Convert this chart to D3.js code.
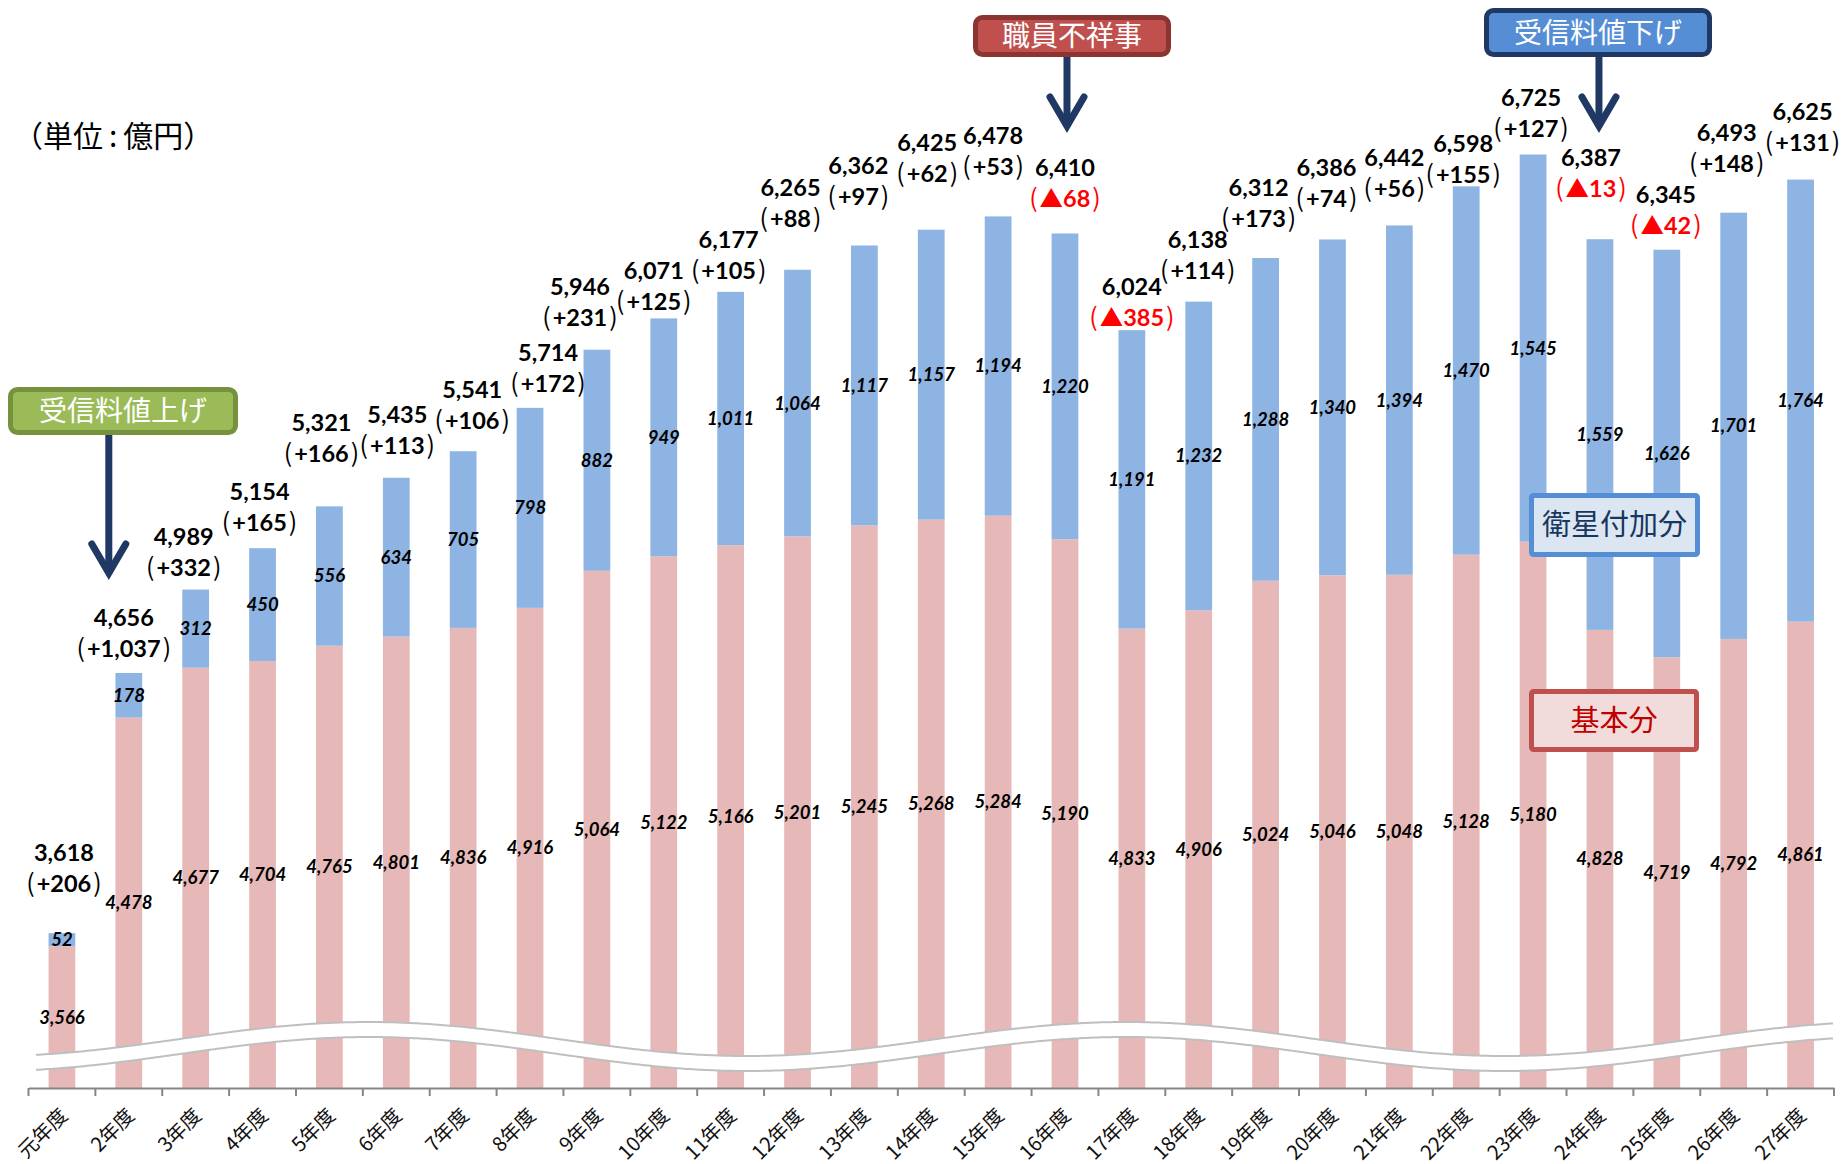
<!DOCTYPE html>
<html>
<head>
<meta charset="utf-8">
<script src="https://cdn.jsdelivr.net/npm/d3@7"></script>
<style>
  body { margin: 0; background: #fff; }
  svg { display: block; }
</style>
</head>
<body>
<script>
// 受信料収入 (単位: 億円)
const categories = ["元年度", "2年度", "3年度", "4年度", "5年度", "6年度", "7年度", "8年度", "9年度",
  "10年度", "11年度", "12年度", "13年度", "14年度", "15年度", "16年度", "17年度", "18年度",
  "19年度", "20年度", "21年度", "22年度", "23年度", "24年度", "25年度", "26年度", "27年度"];
const basicFee = [3566, 4478, 4677, 4704, 4765, 4801, 4836, 4916, 5064, 5122, 5166, 5201, 5245, 5268,
  5284, 5190, 4833, 4906, 5024, 5046, 5048, 5128, 5180, 4828, 4719, 4792, 4861];
const satelliteFee = [52, 178, 312, 450, 556, 634, 705, 798, 882, 949, 1011, 1064, 1117, 1157,
  1194, 1220, 1191, 1232, 1288, 1340, 1394, 1470, 1545, 1559, 1626, 1701, 1764];
const changes = [206, 1037, 332, 165, 166, 113, 106, 172, 231, 125, 105, 88, 97, 62,
  53, -68, -385, 114, 173, 74, 56, 155, 127, -13, -42, 148, 131];

// hand-placed nudges of the total labels (from bar top centre)
const labelDx = [2, -5, -12, -3, -8, 1, 9, 18, -17, -10, -2, -7, -6, -4, -5, 0, 0, -1, -7, -6, -5, -3, -2, -9, -1, -7, 2];
const labelDy = [-80, -55, -53, -56, -84, -63, -61, -55, -63, -48, -52, -82, -80, -87, -81, -66, -43, -62, -70, -72, -68, -43, -57, -81, -55, -80, -68];

const width = 1842, height = 1164;
const axisY = 1088;
const numFont = "Lato, 'Noto Sans CJK JP', sans-serif";
const jpFont = "'Noto Sans CJK JP', sans-serif";
const fmt = d3.format(",");

const rows = categories.map((c, i) => ({
  cat: c,
  basic: basicFee[i],
  sat: satelliteFee[i],
  total: basicFee[i] + satelliteFee[i],
  change: changes[i]
}));

const svg = d3.select("body").append("svg")
    .attr("width", width)
    .attr("height", height)
    .style("background", "#fff");

const x = d3.scaleBand()
    .domain(categories)
    .range([28.5, 1834])
    .paddingInner(0.6)
    .paddingOuter(0.3);

// axis is cut at 3,000
const y = d3.scaleLinear()
    .domain([3000, 7000])
    .range([axisY, axisY - 1002.4]);

const cx = d => x(d.cat) + x.bandwidth() / 2;

// Bars
const bars = svg.append("g");
bars.selectAll(".basic")
  .data(rows)
  .join("rect")
    .attr("class", "basic")
    .attr("x", d => x(d.cat))
    .attr("width", x.bandwidth())
    .attr("y", d => y(d.basic))
    .attr("height", d => y(3000) - y(d.basic))
    .attr("fill", "#E6B9B8");

bars.selectAll(".sat")
  .data(rows)
  .join("rect")
    .attr("class", "sat")
    .attr("x", d => x(d.cat))
    .attr("width", x.bandwidth())
    .attr("y", d => y(d.total))
    .attr("height", d => y(d.basic) - y(d.total))
    .attr("fill", "#8EB4E3");

// Axis break wave
const waveXs = d3.range(36, 1836, 3);
const wave = (px, off) => 1039 + off - 17 * Math.cos(2 * Math.PI * (px - 369) / 757);
svg.append("path")
    .datum(waveXs)
    .attr("d", d3.area().x(d => d).y0(d => wave(d, 0)).y1(d => wave(d, 15)).curve(d3.curveBasis))
    .attr("fill", "#fff");
[0, 15].forEach(off => {
  svg.append("path")
      .datum(waveXs)
      .attr("d", d3.line().x(d => d).y(d => wave(d, off)).curve(d3.curveBasis))
      .attr("fill", "none")
      .attr("stroke", "#BFBFBF")
      .attr("stroke-width", 2);
});

// Inner labels (centre of the visible segment)
const inner = svg.append("g")
    .attr("font-family", numFont)
    .attr("font-weight", 700)
    .attr("font-style", "italic")
    .attr("font-size", 18.5)
    .attr("text-anchor", "middle")
    .attr("fill", "#000");

inner.selectAll(".lb")
  .data(rows)
  .join("text")
    .attr("x", cx)
    .attr("y", d => (y(3000) + y(d.basic)) / 2)
    .attr("dy", "0.35em")
    .text(d => fmt(d.basic));

inner.selectAll(".ls")
  .data(rows)
  .join("text")
    .attr("x", cx)
    .attr("y", d => (y(d.basic) + y(d.total)) / 2)
    .attr("dy", "0.35em")
    .text(d => fmt(d.sat));

// Total labels with year-on-year change
const totals = svg.append("g")
    .attr("font-family", numFont)
    .attr("font-weight", 700)
    .attr("font-size", 23.5)
    .attr("text-anchor", "middle")
  .selectAll("g")
  .data(rows)
  .join("g")
    .attr("transform", (d, i) => "translate(" + (cx(d) + labelDx[i]) + "," + (y(d.total) + labelDy[i]) + ")");

totals.append("text")
    .attr("dy", "0.35em")
    .attr("fill", "#000")
    .text(d => fmt(d.total));

const chg = totals.append("text")
    .attr("y", 31)
    .attr("dy", "0.35em")
    .attr("fill", d => d.change < 0 ? "#FF0000" : "#000");
chg.append("tspan").attr("font-family", jpFont).attr("font-weight", 400).attr("font-size", 25).text("(");
chg.filter(d => d.change < 0).append("tspan").attr("dx", 2).attr("font-family", jpFont).text("▲");
chg.append("tspan").attr("dx", d => d.change < 0 ? 0 : 2).text(d => (d.change > 0 ? "+" : "") + fmt(Math.abs(d.change)));
chg.append("tspan").attr("dx", 2).attr("font-family", jpFont).attr("font-weight", 400).attr("font-size", 25).text(")");

// X axis
const xAxis = svg.append("g")
    .attr("transform", "translate(0," + axisY + ")")
    .call(d3.axisBottom(x).tickSize(0).tickSizeOuter(0));
xAxis.select(".domain").attr("stroke", "#868686").attr("stroke-width", 2);
xAxis.selectAll("text")
    .attr("font-family", jpFont)
    .attr("font-size", 20)
    .attr("fill", "#111")
    .attr("text-anchor", "end")
    .attr("y", 0)
    .attr("dy", "0.35em")
    .attr("transform", "translate(2,24) rotate(-45)");

const boundaries = d3.range(categories.length + 1).map(k => x.range()[0] + k * x.step());
svg.append("g")
  .selectAll("line")
  .data(boundaries)
  .join("line")
    .attr("x1", d => d).attr("x2", d => d)
    .attr("y1", axisY).attr("y2", axisY + 8)
    .attr("stroke", "#868686")
    .attr("stroke-width", 2);

// Unit note
const unit = svg.append("text")
    .attr("x", 13)
    .attr("y", 136)
    .attr("dy", "0.35em")
    .attr("font-family", jpFont)
    .attr("font-size", 30)
    .attr("fill", "#000");
unit.append("tspan").text("（単位");
unit.append("tspan").attr("dx", 6).text(":");
unit.append("tspan").attr("dx", 6).text("億円）");

// Callouts with arrows
const callouts = [
  { text: "受信料値上げ", target: "2年度", x0: 8, y0: 387, w: 230, h: 48, fill: "#9BBB59", stroke: "#76923C", ax: -20, tip: 577 },
  { text: "職員不祥事", target: "16年度", x0: 973, y0: 15, w: 198, h: 42, fill: "#C0504D", stroke: "#8C3432", ax: 2, tip: 130 },
  { text: "受信料値下げ", target: "24年度", x0: 1484, y0: 8, w: 228, h: 49, fill: "#558ED5", stroke: "#1F3864", ax: -1, tip: 130 }
];

const co = svg.append("g").selectAll("g").data(callouts).join("g");
co.each(function(d) {
  const g = d3.select(this);
  const ax = x(d.target) + x.bandwidth() / 2 + d.ax;
  g.append("line")
      .attr("x1", ax).attr("x2", ax)
      .attr("y1", d.y0 + d.h).attr("y2", d.tip - 3)
      .attr("stroke", "#1F3864")
      .attr("stroke-width", 7);
  g.append("path")
      .attr("d", "M" + (ax - 17) + "," + (d.tip - 33) + "L" + ax + "," + (d.tip - 4) + "L" + (ax + 17) + "," + (d.tip - 33))
      .attr("fill", "none")
      .attr("stroke", "#1F3864")
      .attr("stroke-width", 7)
      .attr("stroke-linecap", "round")
      .attr("stroke-linejoin", "miter");
  g.append("rect")
      .attr("x", d.x0 + 2.5).attr("y", d.y0 + 2.5)
      .attr("width", d.w - 5).attr("height", d.h - 5)
      .attr("rx", 7)
      .attr("fill", d.fill)
      .attr("stroke", d.stroke)
      .attr("stroke-width", 5);
  g.append("text")
      .attr("x", d.x0 + d.w / 2)
      .attr("y", d.y0 + d.h / 2)
      .attr("dy", "0.36em")
      .attr("text-anchor", "middle")
      .attr("font-family", jpFont)
      .attr("font-size", 28)
      .attr("fill", "#fff")
      .text(d.text);
});

// Legend boxes
const legend = [
  { text: "衛星付加分", x0: 1529, y0: 493, w: 171, h: 64, fill: "#DCE6F2", stroke: "#558ED5", color: "#17375E" },
  { text: "基本分", x0: 1529, y0: 689, w: 170, h: 63, fill: "#F2DCDB", stroke: "#C0504D", color: "#C00000" }
];
const lg = svg.append("g").selectAll("g").data(legend).join("g");
lg.append("rect")
    .attr("x", d => d.x0 + 2.5).attr("y", d => d.y0 + 2.5)
    .attr("width", d => d.w - 5).attr("height", d => d.h - 5)
    .attr("rx", 2)
    .attr("fill", d => d.fill)
    .attr("stroke", d => d.stroke)
    .attr("stroke-width", 5);
lg.append("text")
    .attr("x", d => d.x0 + d.w / 2)
    .attr("y", d => d.y0 + d.h / 2)
    .attr("dy", "0.36em")
    .attr("text-anchor", "middle")
    .attr("font-family", jpFont)
    .attr("font-size", 29)
    .attr("fill", d => d.color)
    .text(d => d.text);
</script>
</body>
</html>
